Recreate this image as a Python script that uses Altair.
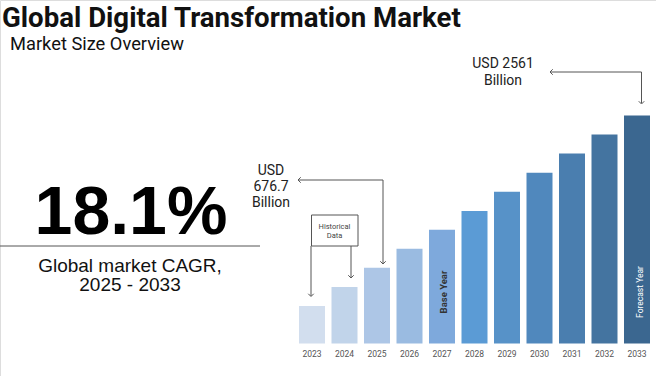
import altair as alt
import pandas as pd

# ---- data ----
years = ["2023", "2024", "2025", "2026", "2027", "2028", "2029", "2030", "2031", "2032", "2033"]
bar_heights = [37.5, 56.5, 75.8, 94.8, 113.8, 132.5, 151.8, 170.8, 190.0, 209.0, 228.0]
bar_colors = ["#d2deee", "#c1d4ea", "#adc6e6", "#9abbe1", "#7ea9dc", "#5b9bd5",
              "#5792c8", "#5088bd", "#4a7eaf", "#4474a0", "#3b6790"]
title_text = "Global Digital Transformation Market"
subtitle_text = "Market Size Overview"
cagr_value = "18.1%"
cagr_label = ["Global market CAGR,", "2025 - 2033"]
start_label = ["USD", "676.7", "Billion"]
end_label = ["USD 2561", "Billion"]
hist_label = ["Historical", "Data"]
base_label = "Base Year"
forecast_label = "Forecast Year"

df = pd.DataFrame({"year": years, "value": bar_heights})
one = pd.DataFrame({"k": [0]})

xscale = alt.Scale(domain=years, range=[295.75, 653.25], paddingInner=0.2, paddingOuter=0.1)
yscale = alt.Scale(domain=[0, 228], range=[343.5, 115.5], nice=False, zero=True)

bars = alt.Chart(df).mark_bar().encode(
    x=alt.X("year:N", scale=xscale, axis=None),
    y=alt.Y("value:Q", scale=yscale, axis=None),
    color=alt.Color("year:N", scale=alt.Scale(domain=years, range=bar_colors), legend=None),
)

year_text = alt.Chart(df).mark_text(
    font="Roboto", fontSize=8.5, color="#555555", baseline="middle"
).encode(
    x=alt.X("year:N", scale=xscale, axis=None),
    y=alt.value(354),
    text="year:N",
)

GRAY = "#555555"


def txt(text, x, y, size, font="Roboto", weight="normal", color="#111111",
        align="center", baseline="alphabetic", angle=0, line_height=None):
    kw = dict(text=text, font=font, fontSize=size, fontWeight=weight, color=color,
              align=align, baseline=baseline)
    if angle:
        kw["angle"] = angle
    if line_height:
        kw["lineHeight"] = line_height
    return alt.Chart(one).mark_text(**kw).encode(x=alt.value(x), y=alt.value(y))


def line(x1, y1, x2, y2, color=GRAY, width=1):
    return alt.Chart(one).mark_rule(color=color, strokeWidth=width).encode(
        x=alt.value(x1), x2=alt.value(x2), y=alt.value(y1), y2=alt.value(y2)
    )


def head(x, y, direction):
    shape = "M-1,-1L0,0L1,-1" if direction == "down" else "M1,-1L0,0L1,1"
    return alt.Chart(one).mark_point(
        shape=shape, filled=False, stroke=GRAY, strokeWidth=1, size=30, opacity=1
    ).encode(x=alt.value(x), y=alt.value(y))


layers = [
    bars,
    year_text,
    # title
    txt(title_text, 2, 27, 27.6, weight="bold", align="left", color="#111111"),
    txt(subtitle_text, 10, 50, 18.3, align="left", color="#111111"),
    # left panel
    txt(cagr_value, 131, 234, 68, font="Liberation Sans", weight="bold", color="#000000"),
    line(0, 246, 260, 246, color="#555555"),
    txt(cagr_label, 130, 272, 19, font="Liberation Sans", color="#111111", line_height=19),
    # 676.7 annotation
    txt(start_label, 271, 175, 14, color="#222222", line_height=16),
    line(298, 180, 383, 180),
    line(383, 180, 383, 263),
    head(298, 180, "left"),
    head(383, 264, "down"),
    # 2561 annotation
    txt(end_label, 503, 68, 14, color="#222222", line_height=17),
    line(550, 72, 641.5, 72),
    line(641.5, 72, 641.5, 103),
    head(550, 72, "left"),
    head(641.5, 104, "down"),
    # historical data box
    line(311, 246, 311, 296),
    line(351, 246, 351, 277),
    head(311, 296.5, "down"),
    head(351, 278, "down"),
    alt.Chart(one).mark_rect(fill="white", stroke=GRAY, strokeWidth=1).encode(
        x=alt.value(311.5), x2=alt.value(358), y=alt.value(215), y2=alt.value(246)
    ),
    txt(hist_label, 334.5, 229, 7.5, color="#444444", line_height=9),
    # bar labels
    txt(base_label, 444, 292, 9.5, weight="bold", color="#333333", baseline="middle", angle=270),
    txt(forecast_label, 640, 292, 8.5, color="#ffffff", baseline="middle", angle=270),
]

chart = alt.layer(*layers).properties(
    width=656, height=376, autosize=alt.AutoSizeParams(type="none"), padding=0
).configure_view(stroke=None).configure(background="white")

chart.save("out.html", embed_options={"renderer": "svg", "actions": False})
